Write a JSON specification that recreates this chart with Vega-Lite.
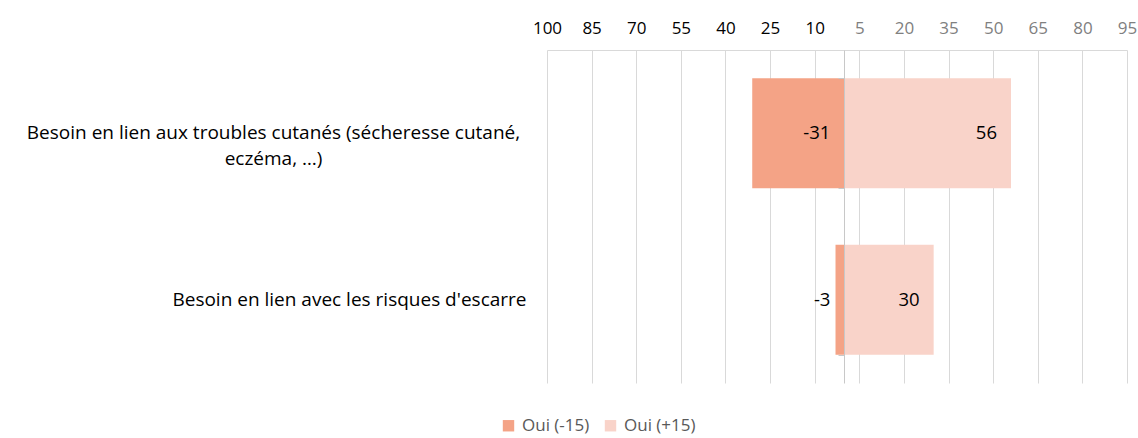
{
  "$schema": "https://vega.github.io/schema/vega-lite/v6.json",
  "width": 580,
  "height": 333,
  "autosize": {"type": "none"},
  "padding": {"left": 547, "top": 50, "right": 11, "bottom": 55},
  "background": "white",
  "config": {"view": {"stroke": null}, "font": "Open Sans"},
  "data": {
    "values": [
      {"cat": "Besoin en lien aux troubles cutanés (sécheresse cutané,|eczéma, …)", "serie": "Oui (-15)", "value": -31},
      {"cat": "Besoin en lien aux troubles cutanés (sécheresse cutané,|eczéma, …)", "serie": "Oui (+15)", "value": 56},
      {"cat": "Besoin en lien avec les risques d'escarre", "serie": "Oui (-15)", "value": -3},
      {"cat": "Besoin en lien avec les risques d'escarre", "serie": "Oui (+15)", "value": 30}
    ]
  },
  "resolve": {"axis": {"y": "independent"}},
  "layer": [
    {
      "mark": {"type": "bar"},
      "encoding": {
        "y": {
          "field": "cat", "type": "nominal", "sort": null,
          "scale": {"paddingInner": 0.34, "paddingOuter": 0.17},
          "axis": {
            "orient": "left", "title": null, "domain": false, "ticks": false,
            "labelExpr": "split(datum.label, '|')",
            "labelFontSize": 19, "labelColor": "#000000", "labelLimit": 600, "labelLineHeight": 26,
            "labelAlign": {"condition": {"test": "indexof(datum.value, '|') >= 0", "value": "center"}, "value": "right"},
            "labelPadding": {"condition": {"test": "indexof(datum.value, '|') >= 0", "value": 274}, "value": 21}
          }
        },
        "x": {
          "field": "value", "type": "quantitative",
          "scale": {"domain": [-100, 95], "nice": false, "zero": false},
          "axis": {
            "orient": "top", "title": null, "domain": true, "domainColor": "#d9d9d9", "ticks": false, "grid": true, "gridColor": "#d9d9d9",
            "values": [-100, -85, -70, -55, -40, -25, -10, 5, 20, 35, 50, 65, 80, 95],
            "labelExpr": "abs(datum.value)", "labelFontSize": 17, "labelPadding": 13, "labelFlush": false, "labelOverlap": false,
            "labelColor": {"condition": {"test": "datum.value < 0", "value": "#000000"}, "value": "#808080"}
          }
        },
        "color": {
          "field": "serie", "type": "nominal",
          "scale": {"domain": ["Oui (-15)", "Oui (+15)"], "range": ["#F4A386", "#F9D3C9"]},
          "legend": {
            "orient": "none", "legendX": -47, "legendY": 367, "direction": "horizontal", "title": null,
            "symbolType": "square", "symbolSize": 130, "labelFontSize": 17, "labelColor": "#595959", "columnPadding": 12, "labelOffset": 5
          }
        }
      }
    },
    {
      "transform": [{"filter": "datum.value < 0"}],
      "mark": {"type": "text", "align": "right", "dx": -14, "fontSize": 18.5, "color": "#000000"},
      "encoding": {
        "y": {"field": "cat", "type": "nominal", "sort": null, "axis": null},
        "x": {"datum": 0, "type": "quantitative",
          "axis": {
            "orient": "top", "title": null, "domain": true, "domainColor": "#d9d9d9", "ticks": false, "grid": true, "gridColor": "#d9d9d9",
            "values": [-100, -85, -70, -55, -40, -25, -10, 5, 20, 35, 50, 65, 80, 95],
            "labelExpr": "abs(datum.value)", "labelFontSize": 17, "labelPadding": 13, "labelFlush": false, "labelOverlap": false,
            "labelColor": {"condition": {"test": "datum.value < 0", "value": "#000000"}, "value": "#808080"}
          }},
        "text": {"field": "value", "type": "nominal"}
      }
    },
    {
      "transform": [{"filter": "datum.value > 0"}],
      "mark": {"type": "text", "align": "right", "dx": -14, "fontSize": 18.5, "color": "#000000"},
      "encoding": {
        "y": {
          "field": "cat", "type": "nominal", "sort": null,
          "axis": {"orient": "left", "offset": -297, "labels": false, "title": null, "grid": false, "domain": true, "ticks": true, "domainColor": "#c8c8c8", "tickColor": "#c8c8c8", "tickBand": "extent", "bandPosition": 0, "tickSize": 6, "tickWidth": 1, "zindex": 1}
        },
        "x": {"field": "value", "type": "quantitative",
          "axis": {
            "orient": "top", "title": null, "domain": true, "domainColor": "#d9d9d9", "ticks": false, "grid": true, "gridColor": "#d9d9d9",
            "values": [-100, -85, -70, -55, -40, -25, -10, 5, 20, 35, 50, 65, 80, 95],
            "labelExpr": "abs(datum.value)", "labelFontSize": 17, "labelPadding": 13, "labelFlush": false, "labelOverlap": false,
            "labelColor": {"condition": {"test": "datum.value < 0", "value": "#000000"}, "value": "#808080"}
          }},
        "text": {"field": "value", "type": "nominal"}
      }
    }
  ]
}
